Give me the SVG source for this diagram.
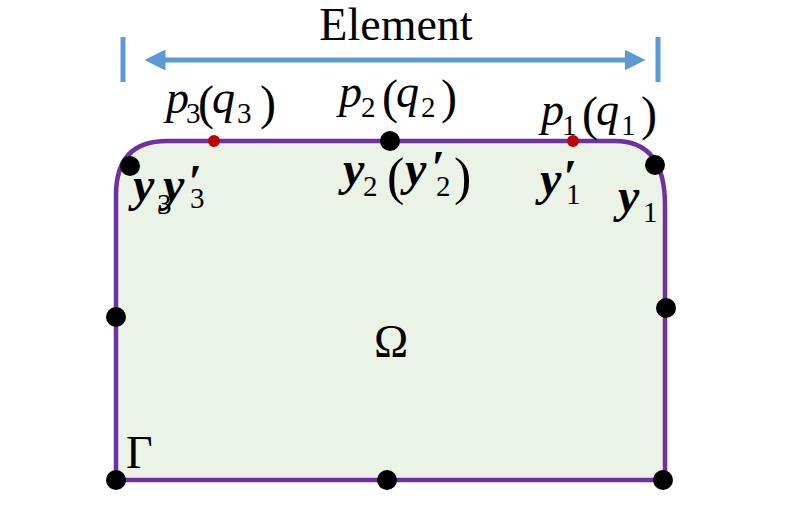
<svg xmlns="http://www.w3.org/2000/svg" width="791" height="524" viewBox="0 0 791 524">
<defs>
<style>
.t{font-family:"Liberation Serif",serif;fill:#000}
.i{font-style:italic}
.b{font-weight:bold;font-style:italic}
.s{font-size:29px}
.pr{font-size:48px}
.bd{fill:#000}
.rd{fill:#C00000}
.ax{stroke:#5B9BD5;stroke-width:5;fill:none}
</style>
<marker id="ah" viewBox="0 0 10 10" refX="5" refY="5" markerWidth="4.2" markerHeight="4.2" orient="auto-start-reverse" markerUnits="strokeWidth">
<path d="M0,0 L10,5 L0,10 z" fill="#5B9BD5"/>
</marker>
</defs>
<rect width="791" height="524" fill="#fff"/>
<g id="domain">
<path d="M116,480 L116,195 Q116,141 167,141 L615,141 Q665,141 665,205 L665,480 Z" fill="#EBF3E6" stroke="#7030A0" stroke-width="4.5"/>
</g>
<g id="connectors">
<line class="ax" x1="155" y1="60" x2="635" y2="60" marker-start="url(#ah)" marker-end="url(#ah)"/>
<line class="ax" x1="123" y1="37" x2="123" y2="82"/>
<line class="ax" x1="658" y1="37" x2="658" y2="82"/>
</g>
<g id="label-element"><text class="t" x="396" y="40" font-size="46" text-anchor="middle">Element</text></g>
<g id="points">
<circle class="bd" cx="130" cy="166" r="10"/>
<circle class="bd" cx="390" cy="141" r="10"/>
<circle class="bd" cx="655" cy="165" r="10"/>
<circle class="bd" cx="116" cy="317" r="10"/>
<circle class="bd" cx="666" cy="308" r="10"/>
<circle class="bd" cx="116" cy="480" r="10"/>
<circle class="bd" cx="387" cy="480" r="10"/>
<circle class="bd" cx="663" cy="480" r="10"/>
<circle class="rd" cx="214" cy="141" r="6"/>
<circle class="rd" cx="573" cy="141" r="6"/>
</g>
<g id="label-p3"><text class="t" font-size="46"><tspan class="i" x="166" y="113">p</tspan><tspan class="s" x="186" y="123">3</tspan><tspan class="pr" x="198" y="119">(</tspan><tspan class="i" x="212" y="113">q</tspan><tspan class="s" x="237" y="123">3</tspan><tspan class="pr" x="260" y="119">)</tspan></text></g>
<g id="label-p2"><text class="t" font-size="46"><tspan class="i" x="339" y="107">p</tspan><tspan class="s" x="361" y="117">2</tspan><tspan class="pr" x="382" y="113">(</tspan><tspan class="i" x="396" y="107">q</tspan><tspan class="s" x="421" y="117">2</tspan><tspan class="pr" x="441" y="113">)</tspan></text></g>
<g id="label-p1"><text class="t" font-size="46"><tspan class="i" x="541" y="125">p</tspan><tspan class="s" x="562" y="135">1</tspan><tspan class="pr" x="582" y="130">(</tspan><tspan class="i" x="596" y="125">q</tspan><tspan class="s" x="621" y="135">1</tspan><tspan class="pr" x="641" y="130">)</tspan></text></g>
<g id="label-y3"><text class="t" font-size="48"><tspan class="b" x="133" y="201">y</tspan><tspan class="s" x="157" y="214">3</tspan><tspan class="b" x="163" y="201">y</tspan><tspan class="b" x="188" y="198">′</tspan><tspan class="s" x="190" y="208">3</tspan></text></g>
<g id="label-y2"><text class="t" font-size="48"><tspan class="b" x="343" y="185">y</tspan><tspan class="s" x="363" y="196">2</tspan><tspan x="387" y="194" font-size="52">(</tspan><tspan class="b" x="405" y="185">y</tspan><tspan class="b" x="431" y="184">′</tspan><tspan class="s" x="436" y="196">2</tspan><tspan x="454" y="194" font-size="52">)</tspan></text></g>
<g id="label-y1p"><text class="t" font-size="48"><tspan class="b" x="540" y="195">y</tspan><tspan class="b" x="563" y="193">′</tspan><tspan class="s" x="566" y="204">1</tspan></text></g>
<g id="label-y1"><text class="t" font-size="48"><tspan class="b" x="618" y="212">y</tspan><tspan class="s" x="643" y="222">1</tspan></text></g>
<g id="label-omega"><text class="t" x="391" y="357" font-size="46" text-anchor="middle">Ω</text></g>
<g id="label-gamma"><text class="t" x="126" y="468" font-size="46">Γ</text></g>
</svg>
